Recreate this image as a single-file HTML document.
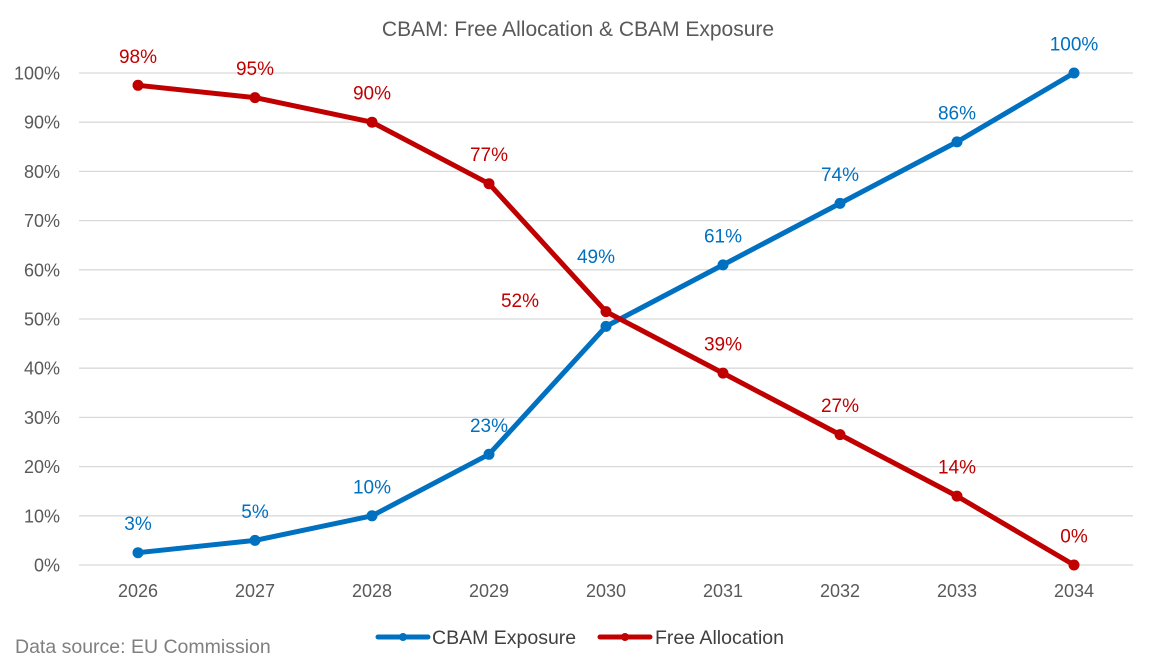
<!DOCTYPE html>
<html><head><meta charset="utf-8"><style>
body{margin:0;background:#fff;}
svg{display:block;font-family:"Liberation Sans",sans-serif;}
</style></head><body>
<svg id="chart" width="1155" height="667">
<text x="578" y="36" text-anchor="middle" font-size="21" fill="#595959">CBAM: Free Allocation &amp; CBAM Exposure</text>
<g id="grid"></g><g id="series"></g>
<text x="15" y="653" font-size="19.5" fill="#7f7f7f">Data source: EU Commission</text>
<g>
<g><line x1="378" y1="637" x2="428" y2="637" stroke="#0070C0" stroke-width="5" stroke-linecap="round"/><circle cx="403" cy="637" r="4" fill="#0070C0"/><text x="432" y="644" font-size="19.5" fill="#404040">CBAM Exposure</text></g>
<g><line x1="600" y1="637" x2="650" y2="637" stroke="#C00000" stroke-width="5" stroke-linecap="round"/><circle cx="625" cy="637" r="4" fill="#C00000"/><text x="655" y="644" font-size="19.5" fill="#404040">Free Allocation</text></g>
</g>
</svg>
<script>
const years=["2026","2027","2028","2029","2030","2031","2032","2033","2034"];
const cbamValues=[2.5,5,10,22.5,48.5,61,73.5,86,100];
const freeValues=[97.5,95,90,77.5,51.5,39,26.5,14,0];
const cbamLabels=["3%","5%","10%","23%","49%","61%","74%","86%","100%"];
const freeLabels=["98%","95%","90%","77%","52%","39%","27%","14%","0%"];
const yTicks=[0,10,20,30,40,50,60,70,80,90,100];
const NS="http://www.w3.org/2000/svg";
const xS=i=>138+i*117;
const yS=v=>565-v*4.92;
function mk(tag,attrs,parent){const e=document.createElementNS(NS,tag);for(const k in attrs)e.setAttribute(k,attrs[k]);parent.appendChild(e);return e;}
const grid=document.getElementById('grid'),ser=document.getElementById('series');
yTicks.forEach(t=>{
 const l=mk('line',{x1:79,x2:1133,y1:yS(t),y2:yS(t),stroke:'#d9d9d9','stroke-width':1.3},grid);
 
 
 const tx=mk('text',{x:60,y:yS(t)+6.5,'text-anchor':'end','font-size':18,fill:'#595959'},grid);
 tx.textContent=t+'%';
 
 
});
years.forEach((y,i)=>{
 const tx=mk('text',{x:xS(i),y:597,'text-anchor':'middle','font-size':18,fill:'#595959'},grid);
 tx.textContent=y;
 
 
});
function draw(vals,labels,color,name){
 const p=mk('polyline',{points:vals.map((v,i)=>xS(i)+','+yS(v)).join(' '),fill:'none',stroke:color,'stroke-width':5,'stroke-linejoin':'round'},ser);
 
 
 vals.forEach((v,i)=>{
  const c=mk('circle',{cx:xS(i),cy:yS(v),r:5.5,fill:color},ser);
  
  
  let lx=xS(i),ly=yS(v)-29;
  if(i===4&&name==='cbam'){lx=xS(i)-10;ly=yS(v)-70;}
  if(i===4&&name==='free'){lx=xS(i)-86;ly=yS(v)-11;}
  const t=mk('text',{x:lx,y:ly+6.5,'text-anchor':'middle','font-size':19,fill:color},ser);
  t.textContent=labels[i];
  
  
 });
}
draw(cbamValues,cbamLabels,'#0070C0','cbam');
draw(freeValues,freeLabels,'#C00000','free');
</script>
</body></html>
